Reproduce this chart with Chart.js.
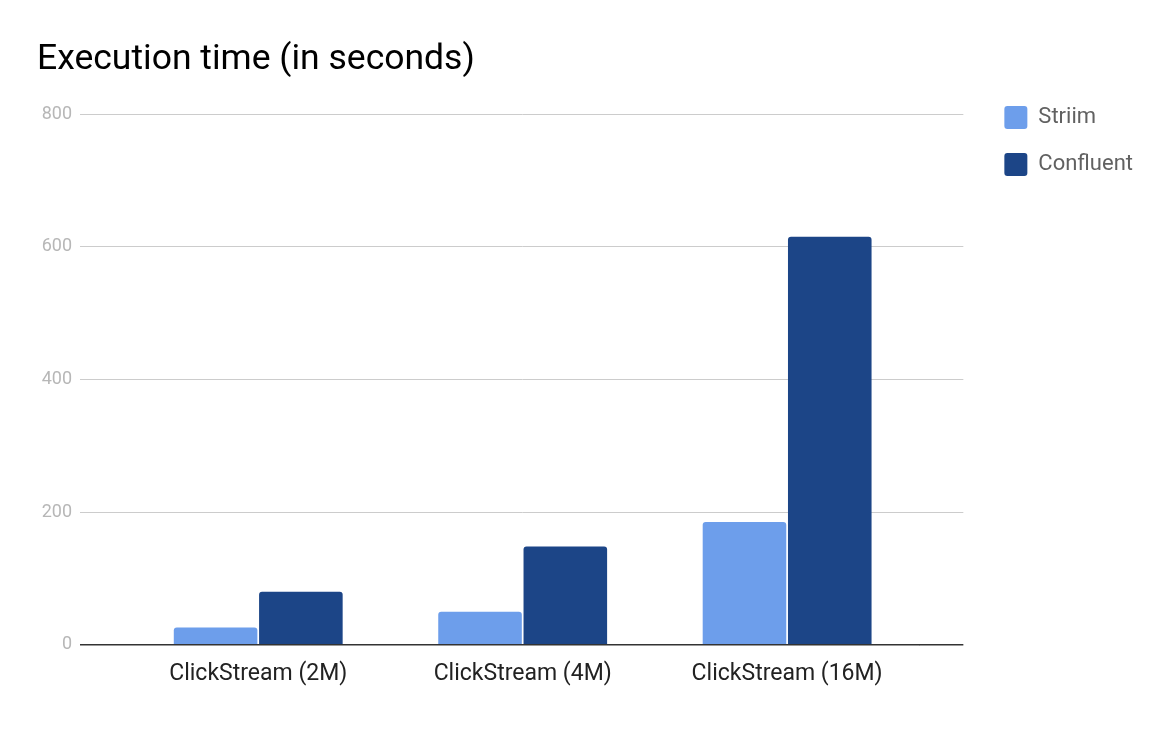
<!DOCTYPE html>
<html>
<head>
<meta charset="utf-8">
<script src="https://cdn.jsdelivr.net/npm/chart.js@4/dist/chart.umd.min.js"></script>
<style>
  html, body { margin: 0; padding: 0; background: #fff; }
  #wrap { width: 1176px; height: 738px; }
</style>
</head>
<body>
<div id="wrap"><canvas id="c" width="1176" height="738"></canvas></div>
<script>
const categories = ['ClickStream (2M)', 'ClickStream (4M)', 'ClickStream (16M)'];
const striim = [26, 50, 185];
const confluent = [80, 148, 615];
const seriesNames = ['Striim', 'Confluent'];
const yTicks = [0, 200, 400, 600, 800];

const gridColor = (ctx) => (ctx.tick && ctx.tick.value === 0) ? '#333333' : '#cccccc';
const gridWidth = (ctx) => (ctx.tick && ctx.tick.value === 0) ? 1.6 : 1;

new Chart(document.getElementById('c'), {
  type: 'bar',
  data: {
    labels: categories,
    datasets: [
      { label: seriesNames[0], data: striim, backgroundColor: '#6d9eeb', borderWidth: 0,
        borderRadius: { topLeft: 3, topRight: 3 }, borderSkipped: 'bottom', yAxisID: 'y' },
      { label: seriesNames[1], data: confluent, backgroundColor: '#1c4587', borderWidth: 0,
        borderRadius: { topLeft: 3, topRight: 3 }, borderSkipped: 'bottom', yAxisID: 'y' }
    ]
  },
  options: {
    responsive: false,
    animation: false,
    devicePixelRatio: 1,
    layout: { padding: { left: 37, right: 33, top: 0, bottom: 33.6 } },
    datasets: { bar: { categoryPercentage: 0.645, barPercentage: 0.98 } },
    font: { family: 'Roboto' },
    plugins: {
      title: {
        display: true,
        text: 'Execution time (in seconds)',
        align: 'start',
        color: '#000000',
        font: { family: 'Roboto', size: 35.5, weight: 'normal' },
        padding: { top: 38.5, bottom: 32.9 }
      },
      legend: {
        display: true,
        position: 'right',
        align: 'start',
        title: { display: true, text: '', font: { size: 10 }, padding: { top: 70, bottom: 0 } },
        labels: {
          boxWidth: 23, boxHeight: 23, padding: 24,
          color: '#616161',
          font: { family: 'Roboto', size: 22 },
          useBorderRadius: true, borderRadius: 3
        }
      },
      tooltip: { enabled: false }
    },
    scales: {
      x: {
        grid: { display: false, drawTicks: false },
        border: { display: false },
        ticks: { color: '#222222', font: { family: 'Roboto', size: 23 }, padding: 16 }
      },
      y: {
        position: 'left',
        min: 0, max: 800,
        afterBuildTicks: (s) => { s.ticks = yTicks.map(v => ({ value: v })); },
        afterFit: (s) => { s.width = 89; },
        border: { display: false },
        grid: { color: gridColor, lineWidth: gridWidth, drawTicks: true, tickLength: 46, tickColor: gridColor, tickWidth: gridWidth },
        ticks: { color: '#b7b7b7', font: { family: 'Roboto', size: 18 }, padding: 8 }
      },
      y2: {
        position: 'right',
        display: true,
        min: 0, max: 800,
        afterBuildTicks: (s) => { s.ticks = yTicks.map(v => ({ value: v })); },
        afterFit: (s) => { s.width = 61; },
        border: { display: false },
        grid: { drawOnChartArea: false, color: gridColor, lineWidth: gridWidth, drawTicks: true, tickLength: 44, tickColor: gridColor, tickWidth: gridWidth },
        ticks: { display: false }
      }
    }
  }
});
</script>
</body>
</html>
